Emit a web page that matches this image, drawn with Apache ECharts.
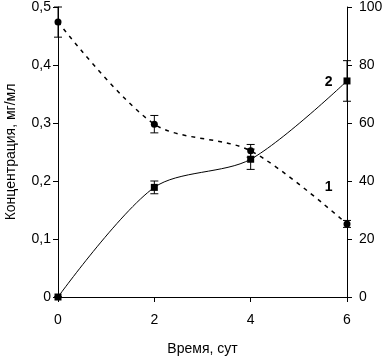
<!DOCTYPE html>
<html>
<head>
<meta charset="utf-8">
<script src="https://cdn.jsdelivr.net/npm/echarts@6/dist/echarts.min.js"></script>
<style>
  html, body { margin: 0; padding: 0; background: #fff; }
  #chart { width: 388px; height: 357px; }
</style>
</head>
<body>
<div id="chart"></div>
<script>
const days = [0, 2, 4, 6]
// кривая 1 — левая ось, мг/мл
const conc1 = [0.474, 0.298, 0.252, 0.126]
const err1 = [0.026, 0.015, 0.011, 0.006]
// кривая 2 — правая ось
const val2 = [0, 37.8, 47.5, 74.5]
const err2 = [0, 2.2, 3.5, 7]
const leftTicks = [0, 0.1, 0.2, 0.3, 0.4, 0.5]
const rightTicks = [0, 20, 40, 60, 80, 100]

const font = "Liberation Sans, Arial, sans-serif"

function errorBars(vals, errs, yAxisIndex) {
  return {
    type: "custom",
    yAxisIndex: yAxisIndex,
    z: 5,
    silent: true,
    data: days.map((d, i) => [d, vals[i] - errs[i], vals[i] + errs[i]]),
    renderItem(params, api) {
      const lo = api.coord([api.value(0), api.value(1)])
      const hi = api.coord([api.value(0), api.value(2)])
      const w = 4
      const style = { stroke: "#000", lineWidth: 1 }
      return {
        type: "group",
        children: [
          { type: "line", shape: { x1: hi[0], y1: hi[1], x2: lo[0], y2: lo[1] }, style },
          { type: "line", shape: { x1: hi[0] - w, y1: hi[1], x2: hi[0] + w, y2: hi[1] }, style },
          { type: "line", shape: { x1: lo[0] - w, y1: lo[1], x2: lo[0] + w, y2: lo[1] }, style },
        ],
      }
    },
  }
}

const chart = echarts.init(document.getElementById("chart"))
chart.setOption({
  animation: false,
  grid: { left: 58, right: 41, top: 7, bottom: 60, outerBoundsMode: "none" },
  xAxis: {
    type: "value",
    min: 0,
    max: 6,
    interval: 2,
    name: "Время, сут",
    nameLocation: "middle",
    nameGap: 45,
    nameTextStyle: { color: "#000", fontFamily: font, fontSize: 14 },
    axisLine: { lineStyle: { color: "#000" } },
    axisTick: { length: 5, lineStyle: { color: "#000" } },
    axisLabel: { color: "#000", fontFamily: font, fontSize: 14, margin: 16 },
    splitLine: { show: false },
  },
  yAxis: [
    {
      type: "value",
      min: 0,
      max: 0.5,
      interval: 0.1,
      name: "Концентрация, мг/мл",
      nameLocation: "middle",
      nameGap: 40,
      nameTextStyle: { color: "#000", fontFamily: font, fontSize: 14 },
      axisLine: { show: true, lineStyle: { color: "#000" } },
      axisTick: { show: true, length: 5, lineStyle: { color: "#000" } },
      axisLabel: {
        color: "#000",
        fontFamily: font,
        fontSize: 14,
        margin: 7,
        formatter: v => {
          const t = leftTicks.find(x => Math.abs(x - v) < 1e-9)
          return t === 0 ? "0" : String(t.toFixed(1)).replace(".", ",")
        },
      },
      splitLine: { show: false },
    },
    {
      type: "value",
      min: 0,
      max: 100,
      interval: 20,
      position: "right",
      axisLine: { show: true, lineStyle: { color: "#000" } },
      axisTick: { show: true, length: 5, lineStyle: { color: "#000" } },
      axisLabel: { color: "#000", fontFamily: font, fontSize: 14, margin: 12,
        formatter: v => String(rightTicks.find(x => x === v)) },
      splitLine: { show: false },
    },
  ],
  series: [
    {
      name: "1",
      type: "line",
      yAxisIndex: 0,
      smooth: 0.3,
      data: days.map((d, i) => [d, conc1[i]]),
      symbol: "circle",
      symbolSize: 7,
      itemStyle: { color: "#000" },
      lineStyle: { color: "#000", width: 1.5, type: [4, 5] },
      label: {
        show: true,
        formatter: p => (p.dataIndex === days.length - 1 ? "1" : ""),
        position: "left",
        offset: [-6, -37],
        color: "#000",
        fontFamily: font,
        fontSize: 14,
        fontWeight: "bold",
      },
      z: 3,
    },
    {
      name: "2",
      type: "line",
      yAxisIndex: 1,
      smooth: 0.3,
      data: days.map((d, i) => [d, val2[i]]),
      symbol: "rect",
      symbolSize: 7,
      itemStyle: { color: "#000" },
      lineStyle: { color: "#000", width: 1 },
      label: {
        show: true,
        formatter: p => (p.dataIndex === days.length - 1 ? "2" : ""),
        position: "left",
        offset: [-6, 1],
        color: "#000",
        fontFamily: font,
        fontSize: 14,
        fontWeight: "bold",
      },
      z: 3,
    },
    errorBars(conc1, err1, 0),
    errorBars(val2, err2, 1),
  ],
})
</script>
</body>
</html>
